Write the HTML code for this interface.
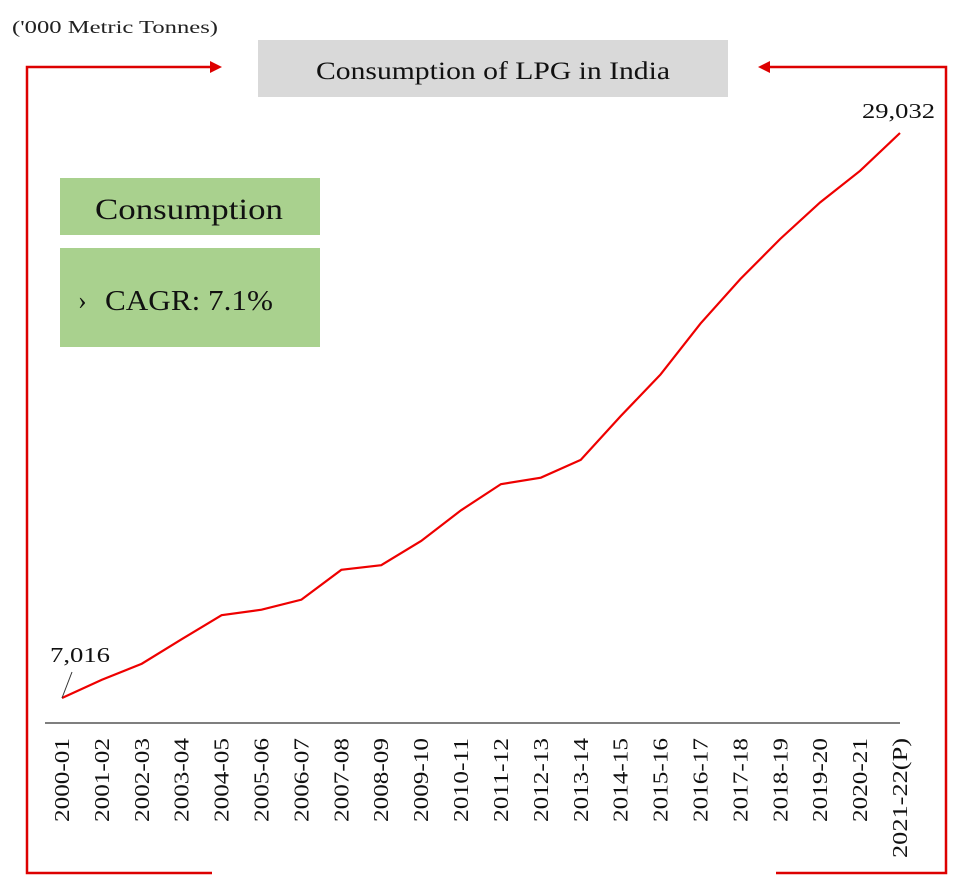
<!DOCTYPE html>
<html><head><meta charset="utf-8"><style>
body{margin:0;background:#fff;width:964px;height:889px;overflow:hidden;font-family:"Liberation Serif",serif;}
</style></head><body>
<svg width="964" height="889" xmlns="http://www.w3.org/2000/svg" font-family="Liberation Serif, serif">
<text x="12" y="33" font-size="18" textLength="206" lengthAdjust="spacingAndGlyphs" fill="#222">('000 Metric Tonnes)</text>
<g stroke="#d00" stroke-width="2.5" fill="none">
<polyline points="212,67 27,67 27,873 212,873"/>
<polyline points="768,67 946,67 946,873 776,873"/>
</g>
<polygon points="222,67 210,61 210,73" fill="#d00"/>
<polygon points="758,67 770,61 770,73" fill="#d00"/>
<rect x="258" y="40" width="470" height="57" fill="#d9d9d9"/>
<text x="316" y="79" font-size="25" textLength="354" lengthAdjust="spacingAndGlyphs" fill="#111">Consumption of LPG in India</text>
<rect x="60" y="178" width="260" height="57" fill="#a9d18e"/>
<text x="95" y="219" font-size="30" textLength="188" lengthAdjust="spacingAndGlyphs" fill="#111">Consumption</text>
<rect x="60" y="248" width="260" height="99" fill="#a9d18e"/>
<text x="78" y="309" font-size="26" fill="#111">›</text>
<text x="105" y="310" font-size="29" textLength="168" lengthAdjust="spacingAndGlyphs" fill="#111">CAGR: 7.1%</text>
<line x1="45" y1="723" x2="900" y2="723" stroke="#333" stroke-width="1.2"/>
<g id="labels"></g>
<polyline id="line" fill="none" stroke="#e00" stroke-width="2.2"/>
<line x1="62" y1="698" x2="72" y2="672" stroke="#333" stroke-width="1"/>
<text x="50" y="662" font-size="21" textLength="60" lengthAdjust="spacingAndGlyphs" fill="#111" id="firstLbl"></text>
<text x="862" y="118" font-size="21" textLength="73" lengthAdjust="spacingAndGlyphs" fill="#111" id="lastLbl"></text>
</svg>
<script>
const categories=["2000-01","2001-02","2002-03","2003-04","2004-05","2005-06","2006-07","2007-08","2008-09","2009-10","2010-11","2011-12","2012-13","2013-14","2014-15","2015-16","2016-17","2017-18","2018-19","2019-20","2020-21","2021-22(P)"];
const values=[7016,7728,8351,9307,10245,10456,10849,12010,12191,13135,14331,15350,15601,16294,18000,19623,21608,23342,24907,26330,27558,29032];
const x=i=>62+i*(900-62)/(categories.length-1);
const y=v=>698-(v-7016)*(565/22016);
const ns="http://www.w3.org/2000/svg";
document.getElementById('line').setAttribute('points',values.map((v,i)=>x(i)+','+y(v)).join(' '));
const g=document.getElementById('labels');
categories.forEach((c,i)=>{
 const t=document.createElementNS(ns,'text');
 
 
 t.setAttribute('transform','translate('+(x(i)+7)+',738) rotate(-90)');
 t.setAttribute('text-anchor','end');
 t.setAttribute('font-size','21');
 t.setAttribute('textLength',String(12*c.length));
 t.setAttribute('lengthAdjust','spacingAndGlyphs');
 t.setAttribute('fill','#111');
 t.textContent=c;g.appendChild(t);
});
document.getElementById('firstLbl').textContent=values[0].toLocaleString('en-US');
document.getElementById('lastLbl').textContent=values[values.length-1].toLocaleString('en-US');
</script>
</body></html>
